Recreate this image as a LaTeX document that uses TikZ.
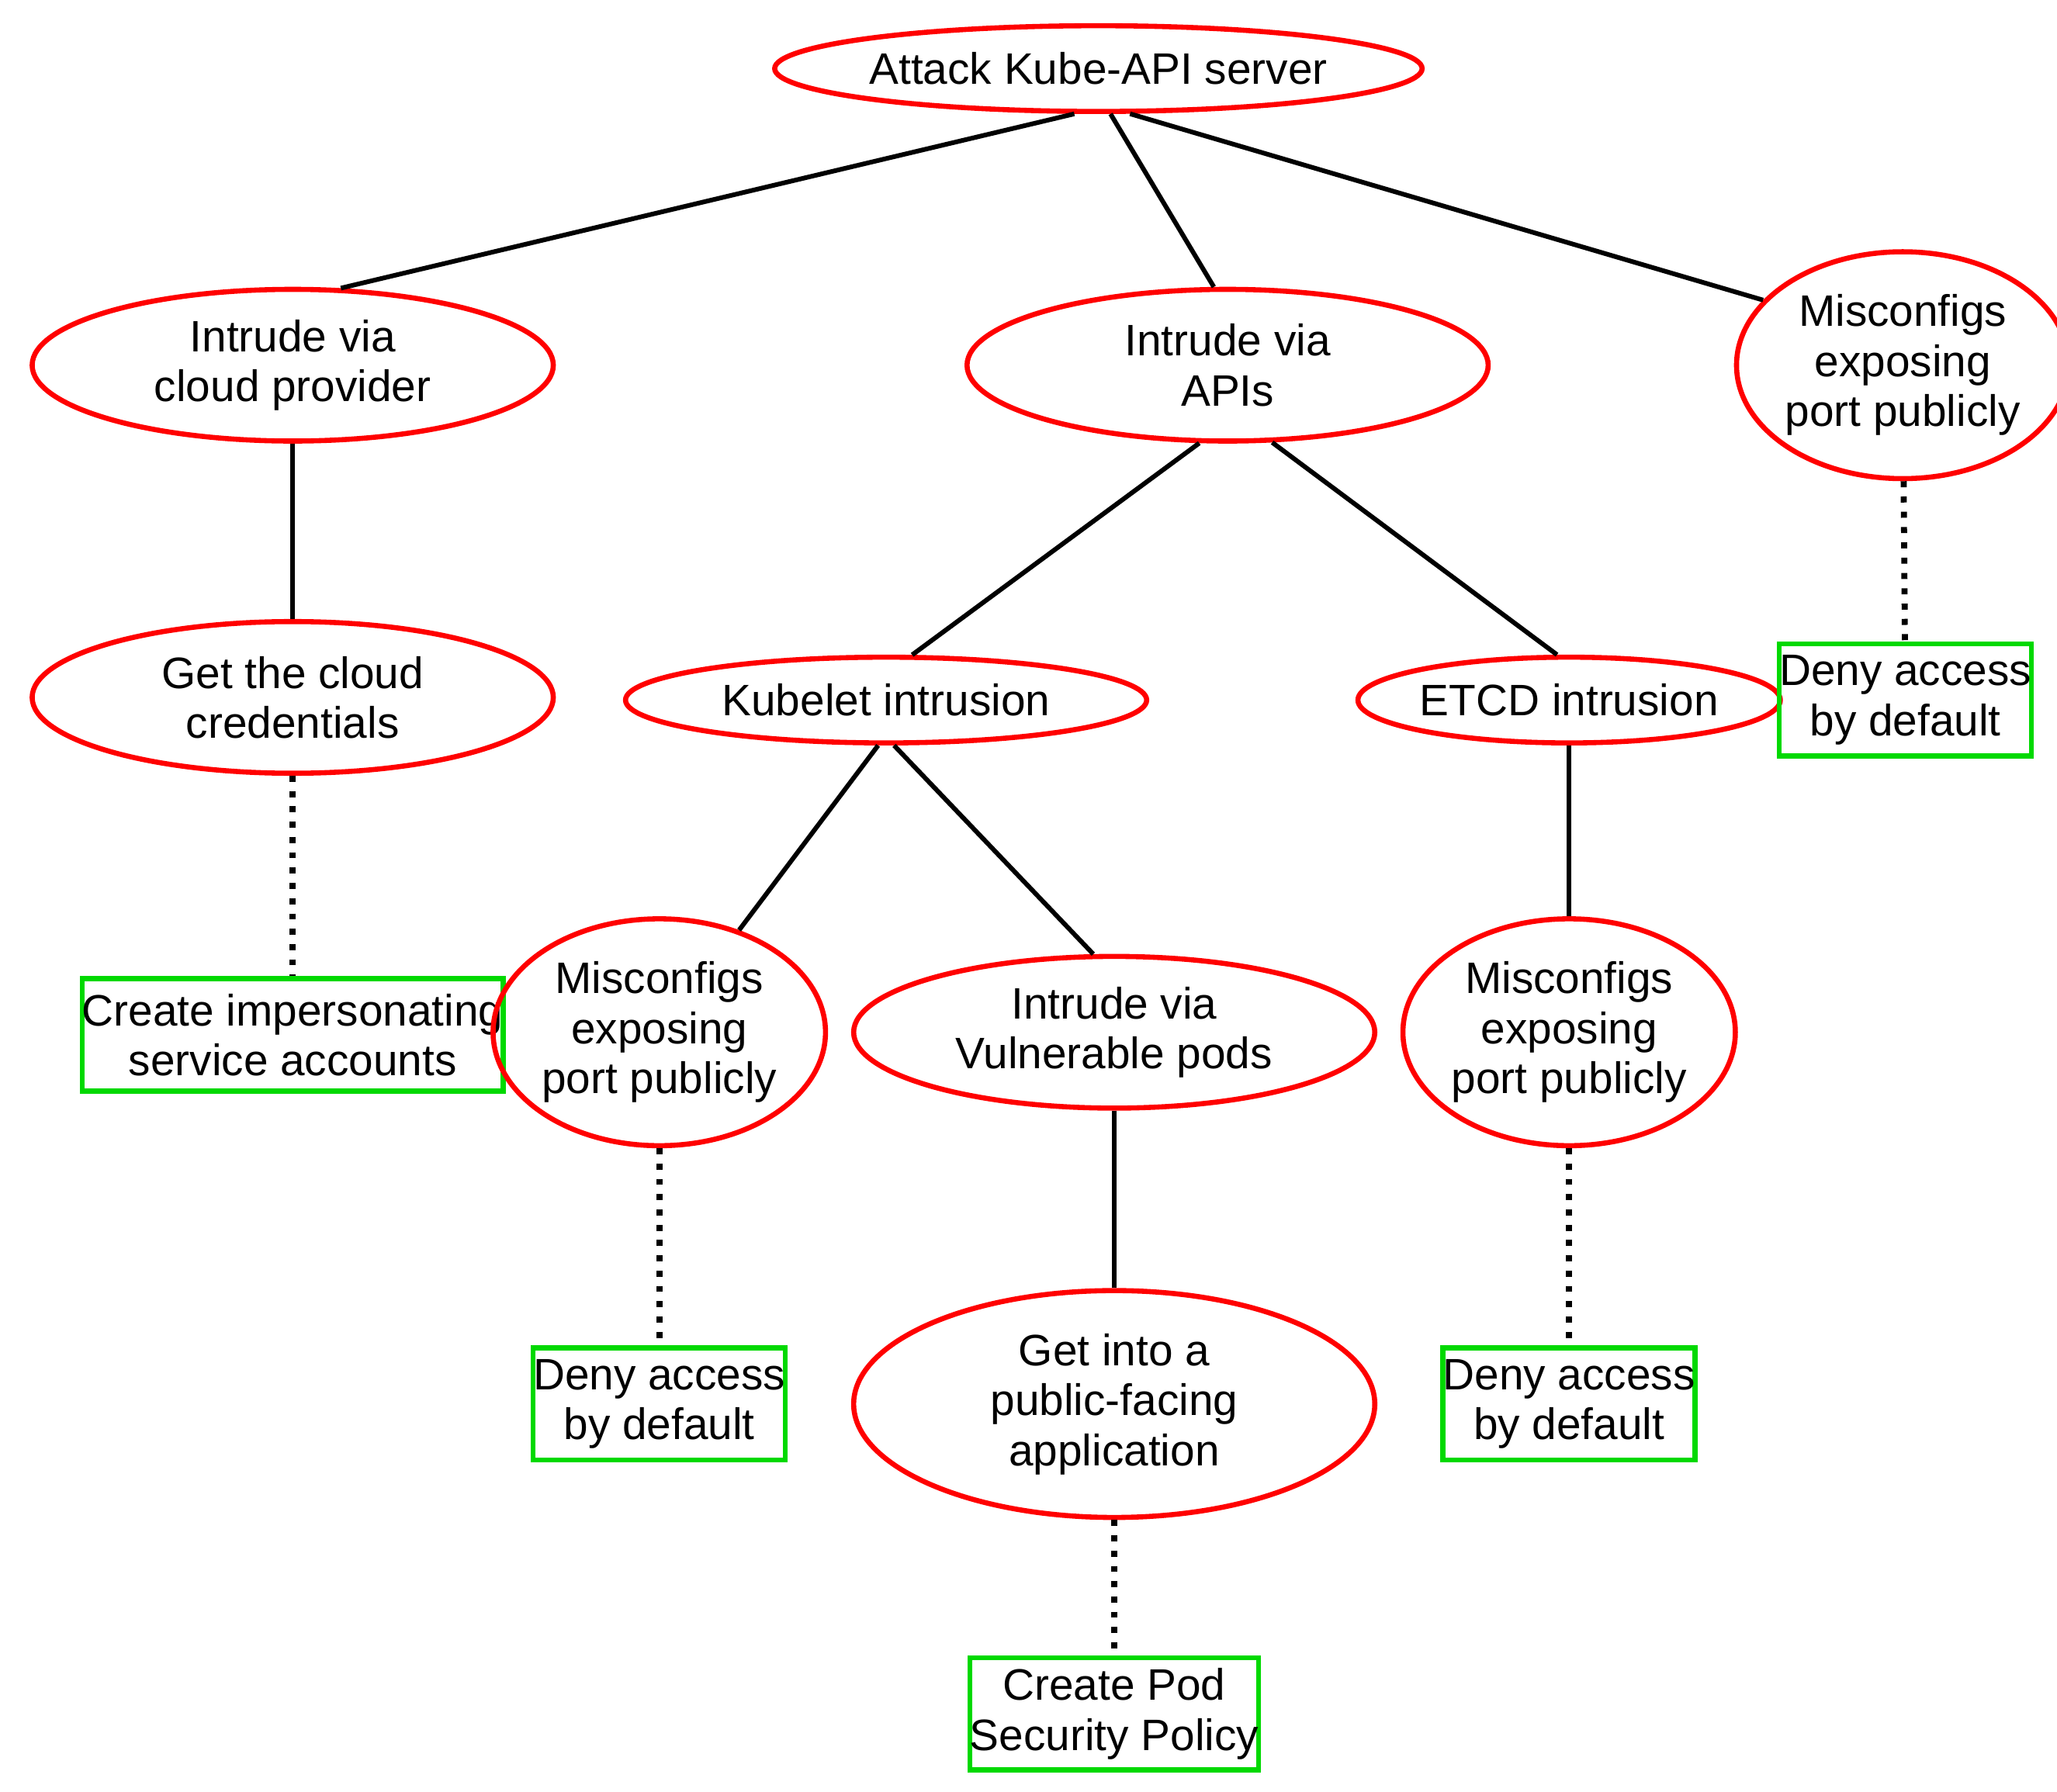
\documentclass[tikz,border=0pt]{standalone}
\usepackage{fontspec}
\setmainfont{Liberation Sans}
\usetikzlibrary{shapes.geometric}
\begin{document}
\begin{tikzpicture}[x=0.01cm,y=-0.01cm,
 el/.style={ellipse,draw=red,line width=1.1pt,inner sep=0pt,align=center,font=\fontsize{9.5}{10.8}\selectfont},
 bx/.style={rectangle,draw=green!85!black,line width=1.1pt,inner sep=0pt,align=center,font=\fontsize{9.5}{10.8}\selectfont},
 ln/.style={line width=1pt},
 dt/.style={line width=1.3pt,dotted}]
\useasboundingbox (0,0) rectangle (1560,1359);
\node[el,minimum width=3.95cm,minimum height=0.65cm] (a) at (833,52) {Attack Kube-API server};
\node[el,minimum width=3.95cm,minimum height=1.15cm] (c) at (222,277) {Intrude via\\cloud provider};
\node[el,minimum width=3.95cm,minimum height=1.15cm] (p) at (931,277) {Intrude via\\APIs};
\node[el,minimum width=2.05cm,minimum height=1.72cm] (m1) at (1443,277) {Misconfigs\\exposing\\port publicly};
\node[el,minimum width=3.95cm,minimum height=1.15cm] (g) at (222,529) {Get the cloud\\credentials};
\node[el,minimum width=3.95cm,minimum height=0.65cm] (k) at (672,531) {Kubelet intrusion};
\node[el,minimum width=2.6cm,minimum height=0.65cm] (e) at (1190,531) {ETCD intrusion};
\node[bx,minimum width=1.58cm,minimum height=0.85cm] (d1) at (1445,531) {Deny access\\by default};
\node[bx,minimum width=2.62cm,minimum height=0.85cm] (ci) at (222,785) {Create impersonating\\service accounts};
\node[el,minimum width=2.05cm,minimum height=1.72cm] (m2) at (500,783) {Misconfigs\\exposing\\port publicly};
\node[el,minimum width=3.95cm,minimum height=1.15cm] (v) at (845,783) {Intrude via\\Vulnerable pods};
\node[el,minimum width=2.05cm,minimum height=1.72cm] (m3) at (1190,783) {Misconfigs\\exposing\\port publicly};
\node[bx,minimum width=1.58cm,minimum height=0.85cm] (d2) at (500,1065) {Deny access\\by default};
\node[el,minimum width=3.95cm,minimum height=1.72cm] (pf) at (845,1065) {Get into a\\public-facing\\application};
\node[bx,minimum width=1.58cm,minimum height=0.85cm] (d3) at (1190,1065) {Deny access\\by default};
\node[bx,minimum width=1.72cm,minimum height=0.85cm] (ps) at (845,1300) {Create Pod\\Security Policy};
\draw[ln] (a.-118) -- (c.58);
\draw[ln] (a.-75) -- (p.100);
\draw[ln] (a.-55) -- (m1.155);
\draw[ln] (c) -- (g);
\draw[ln] (p.-110) -- (k.60);
\draw[ln] (p.-60) -- (e.105);
\draw[ln] (k.-100) -- (m2.52);
\draw[ln] (k.-80) -- (v.105);
\draw[ln] (e) -- (m3);
\draw[ln] (v) -- (pf);
\draw[dt] (m1) -- (d1);
\draw[dt] (g) -- (ci);
\draw[dt] (m2) -- (d2);
\draw[dt] (m3) -- (d3);
\draw[dt] (pf) -- (ps);
\end{tikzpicture}
\end{document}
